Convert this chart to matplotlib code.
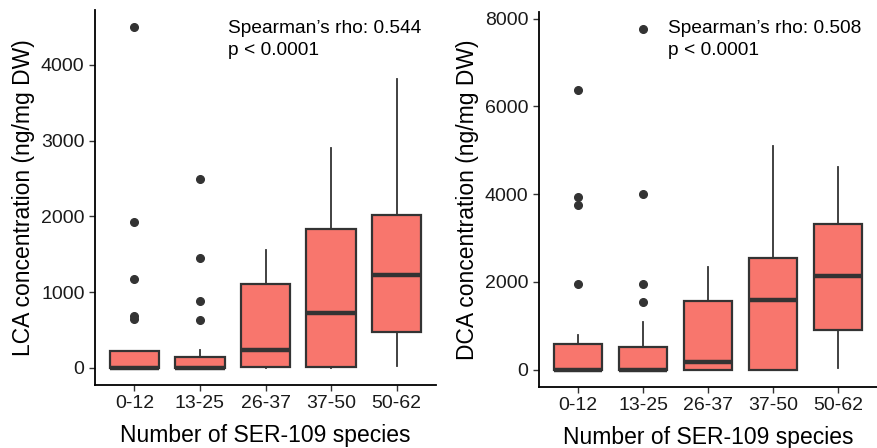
import matplotlib.pyplot as plt

plt.rcParams['font.family'] = ['Liberation Sans', 'DejaVu Sans']

groups = ['0-12', '13-25', '26-37', '37-50', '50-62']

# LCA panel: box stats
lca_q1 = [0, 0, 13, 10, 476]
lca_med = [0, 0, 243, 732, 1229]
lca_q3 = [220, 141, 1115, 1836, 2021]
lca_whislo = [0, 0, 0, 0, 26]
lca_whishi = [220, 233, 1555, 2906, 3818]
lca_fliers = [[4497, 1921, 1181, 683, 652], [2489, 1449, 885, 630], [], [], []]

# DCA panel
dca_q1 = [0, 0, 0, 0, 913]
dca_med = [0, 0, 174, 1592, 2145]
dca_q3 = [582, 505, 1563, 2544, 3330]
dca_whislo = [0, 0, 0, 0, 30]
dca_whishi = [786, 1094, 2340, 5096, 4614]
dca_fliers = [[6371, 3925, 3753, 1963], [7753, 4009, 1955, 1547], [], [], []]

fill = '#F8766D'
edge = '#333333'


def make_stats(q1, med, q3, lo, hi, fl):
    return [dict(q1=a, med=b, q3=c, whislo=d, whishi=e, fliers=f, label=g)
            for a, b, c, d, e, f, g in zip(q1, med, q3, lo, hi, fl, groups)]


def draw(ax, stats, ylim, yticks, ylabel, txt, txt_xy):
    ax.bxp(stats, positions=range(1, 6), widths=0.75, patch_artist=True,
           boxprops=dict(facecolor=fill, edgecolor=edge, linewidth=1.6),
           medianprops=dict(color=edge, linewidth=3.2),
           whiskerprops=dict(color=edge, linewidth=1.3),
           capprops=dict(linewidth=0), showcaps=False,
           flierprops=dict(marker='o', markerfacecolor=edge, markeredgecolor=edge,
                           markersize=5.5))
    ax.set_xlim(0.4, 5.6)
    ax.set_ylim(*ylim)
    ax.set_yticks(yticks)
    ax.set_xticks(range(1, 6))
    ax.set_xticklabels(groups)
    for s in ['top', 'right']:
        ax.spines[s].set_visible(False)
    for s in ['left', 'bottom']:
        ax.spines[s].set_linewidth(1.3)
        ax.spines[s].set_color('black')
    ax.tick_params(length=4.5, width=1.0, color=edge, labelsize=14,
                   labelcolor='#1a1a1a', pad=3)
    ax.set_ylabel(ylabel, fontsize=16.5, labelpad=4)
    ax.set_xlabel('Number of SER-109 species', fontsize=16.5, labelpad=8)
    ax.text(txt_xy[0], txt_xy[1], txt, fontsize=13.8, va='center', ha='left',
            linespacing=1.38)


fig = plt.figure(figsize=(8.78, 4.48), dpi=100)
ax1 = fig.add_axes([0.1082, 0.1406, 0.3884, 0.837])
ax2 = fig.add_axes([0.6139, 0.1362, 0.385, 0.837])

draw(ax1, make_stats(lca_q1, lca_med, lca_q3, lca_whislo, lca_whishi, lca_fliers),
     (-225, 4725), [0, 1000, 2000, 3000, 4000], 'LCA concentration (ng/mg DW)',
     'Spearman\u2019s rho: 0.544\np < 0.0001', (2.43, 4336))
draw(ax2, make_stats(dca_q1, dca_med, dca_q3, dca_whislo, dca_whishi, dca_fliers),
     (-395, 8150), [0, 2000, 4000, 6000, 8000], 'DCA concentration (ng/mg DW)',
     'Spearman\u2019s rho: 0.508\np < 0.0001', (2.39, 7531))

fig.savefig('out.png', dpi=100)
